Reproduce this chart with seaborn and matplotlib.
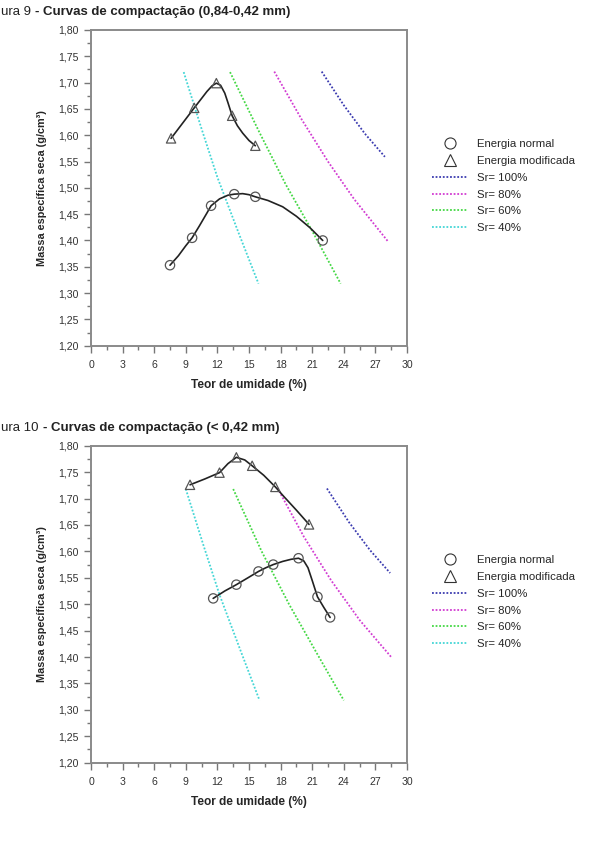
import seaborn as sns
import matplotlib.pyplot as plt
from matplotlib.lines import Line2D
from matplotlib.ticker import MultipleLocator, FuncFormatter

# ---- Figura 9 (0,84-0,42 mm) ----
f9_normal_w = [7.5, 9.6, 11.4, 13.6, 15.6, 22.0]
f9_normal_rho = [1.353, 1.405, 1.466, 1.488, 1.483, 1.400]
f9_normal_curve_w = [7.5, 8.3, 9.0, 9.6, 10.3, 11.0, 11.4, 12.2, 13.0, 13.6, 14.4, 15.0, 15.6, 16.8, 18.2, 19.5, 20.8, 22.0]
f9_normal_curve_rho = [1.353, 1.371, 1.390, 1.405, 1.428, 1.452, 1.466, 1.479, 1.486, 1.488, 1.489, 1.487, 1.483, 1.476, 1.464, 1.446, 1.424, 1.400]

f9_mod_w = [7.6, 9.8, 11.9, 13.4, 15.6]
f9_mod_rho = [1.594, 1.652, 1.699, 1.637, 1.580]
f9_mod_curve_w = [7.6, 8.7, 9.8, 10.5, 11.0, 11.5, 11.9, 12.3, 12.7, 13.0, 13.4, 13.9, 14.4, 15.0, 15.6]
f9_mod_curve_rho = [1.594, 1.623, 1.652, 1.670, 1.683, 1.694, 1.699, 1.695, 1.680, 1.662, 1.637, 1.618, 1.604, 1.590, 1.580]

f9_sr100_w = [21.9, 24.0, 26.0, 27.9]
f9_sr100_rho = [1.721, 1.657, 1.603, 1.559]
f9_sr80_w = [17.4, 20.0, 22.5, 25.0, 28.2]
f9_sr80_rho = [1.721, 1.630, 1.550, 1.478, 1.398]
f9_sr60_w = [13.2, 16.0, 18.5, 21.0, 23.7]
f9_sr60_rho = [1.720, 1.605, 1.506, 1.418, 1.318]
f9_sr40_w = [8.8, 10.5, 12.0, 14.0, 15.9]
f9_sr40_rho = [1.720, 1.612, 1.520, 1.415, 1.318]

# ---- Figura 10 (< 0,42 mm) ----
f10_normal_w = [11.6, 13.8, 15.9, 17.3, 19.7, 21.5, 22.7]
f10_normal_rho = [1.511, 1.537, 1.562, 1.575, 1.587, 1.514, 1.475]
f10_normal_curve_w = [11.6, 12.7, 13.8, 14.9, 15.9, 16.6, 17.3, 18.2, 19.0, 19.7, 20.2, 20.6, 21.0, 21.5, 22.1, 22.7]
f10_normal_curve_rho = [1.511, 1.525, 1.537, 1.550, 1.562, 1.569, 1.575, 1.581, 1.585, 1.587, 1.582, 1.569, 1.545, 1.514, 1.494, 1.475]

f10_mod_w = [9.4, 12.2, 13.8, 15.3, 17.5, 20.7]
f10_mod_rho = [1.726, 1.749, 1.778, 1.762, 1.722, 1.651]
f10_mod_curve_w = [9.4, 10.8, 12.2, 13.0, 13.8, 14.6, 15.3, 16.4, 17.5, 18.3, 19.5, 20.7]
f10_mod_curve_rho = [1.726, 1.737, 1.749, 1.766, 1.778, 1.773, 1.762, 1.744, 1.722, 1.704, 1.678, 1.651]

f10_sr100_w = [22.4, 24.5, 26.5, 28.4]
f10_sr100_rho = [1.719, 1.655, 1.602, 1.559]
f10_sr80_w = [17.7, 20.2, 22.8, 25.5, 28.5]
f10_sr80_rho = [1.720, 1.628, 1.545, 1.470, 1.400]
f10_sr60_w = [13.5, 16.2, 18.8, 21.3, 24.0]
f10_sr60_rho = [1.718, 1.600, 1.500, 1.412, 1.318]
f10_sr40_w = [9.0, 10.7, 12.2, 14.2, 16.0]
f10_sr40_rho = [1.718, 1.610, 1.518, 1.412, 1.318]

legend_labels = ["Energia normal", "Energia modificada", "Sr= 100%", "Sr= 80%", "Sr= 60%", "Sr= 40%"]
sr_colors = ["#3b3bb0", "#d23cd2", "#44d844", "#44d6d6"]

sns.set_style("white")
plt.rcParams['font.family'] = ['Liberation Sans', 'DejaVu Sans']

fig = plt.figure(figsize=(6.09, 8.56), dpi=100)
W, H = 609, 856


def px_axes(x0, y0, x1, y1):
    return fig.add_axes([x0 / W, 1 - y1 / H, (x1 - x0) / W, (y1 - y0) / H])


dot = (0, (1, 1))
marker_color = "#555555"


def draw(ax, normal, mod, srs, legend_top):
    nw, nr, ncw, ncr = normal
    mw, mr, mcw, mcr = mod
    for (sw, sr), c in zip(srs, sr_colors):
        sns.lineplot(x=sw, y=sr, ax=ax, color=c, linestyle=dot, lw=1.3, sort=False, estimator=None)
    sns.lineplot(x=ncw, y=ncr, ax=ax, color="#222222", lw=1.2, sort=False, estimator=None)
    sns.lineplot(x=mcw, y=mcr, ax=ax, color="#222222", lw=1.2, sort=False, estimator=None)
    sns.scatterplot(x=nw, y=nr, ax=ax, marker="o", s=45, facecolor="none", edgecolor=marker_color, linewidth=0.9, zorder=5)
    sns.scatterplot(x=mw, y=mr, ax=ax, marker="^", s=45, facecolor="none", edgecolor=marker_color, linewidth=0.9, zorder=5)

    ax.set_xlim(0, 30)
    ax.set_ylim(1.20, 1.80)
    ax.xaxis.set_major_locator(MultipleLocator(3))
    ax.xaxis.set_minor_locator(MultipleLocator(1.5))
    ax.yaxis.set_major_locator(MultipleLocator(0.05))
    ax.yaxis.set_minor_locator(MultipleLocator(0.025))
    ax.yaxis.set_major_formatter(FuncFormatter(lambda v, p: f"{v:.2f}".replace('.', ',')))
    ax.tick_params(which='major', direction='out', length=5, width=1, color='#777777',
                   labelsize=7.6, labelcolor='#333333', bottom=True, left=True, pad=5)
    ax.tick_params(which='minor', direction='out', length=3, width=1, color='#777777', bottom=True, left=True)
    ax.tick_params(axis='y', which='major', pad=4)
    for s in ax.spines.values():
        s.set_color('#8a8a8a')
        s.set_linewidth(1.4)
    ax.set_xlabel("Teor de umidade (%)", fontsize=8.6, fontweight='bold', labelpad=7)
    ax.set_ylabel("Massa específica seca (g/cm³)", fontsize=7.8, fontweight='bold', labelpad=8)

    handles = [
        Line2D([], [], ls='none', marker='o', ms=8, mfc='none', mec='#333333', mew=0.8),
        Line2D([], [], ls='none', marker='^', ms=8, mfc='none', mec='#333333', mew=0.8),
    ] + [Line2D([], [], color=c, ls=dot, lw=1.3) for c in sr_colors]
    ax.legend(handles, legend_labels, loc='upper left', bbox_to_anchor=(432 / W, 1 - legend_top / H),
              bbox_transform=fig.transFigure, frameon=False, fontsize=8.2, handlelength=3.2,
              handletextpad=0.75, labelspacing=0.6, borderpad=0, borderaxespad=0)


ax1 = px_axes(91, 30, 407, 345.7)
draw(ax1,
     (f9_normal_w, f9_normal_rho, f9_normal_curve_w, f9_normal_curve_rho),
     (f9_mod_w, f9_mod_rho, f9_mod_curve_w, f9_mod_curve_rho),
     [(f9_sr100_w, f9_sr100_rho), (f9_sr80_w, f9_sr80_rho), (f9_sr60_w, f9_sr60_rho), (f9_sr40_w, f9_sr40_rho)],
     139)

ax2 = px_axes(91, 445.7, 407, 762.7)
draw(ax2,
     (f10_normal_w, f10_normal_rho, f10_normal_curve_w, f10_normal_curve_rho),
     (f10_mod_w, f10_mod_rho, f10_mod_curve_w, f10_mod_curve_rho),
     [(f10_sr100_w, f10_sr100_rho), (f10_sr80_w, f10_sr80_rho), (f10_sr60_w, f10_sr60_rho), (f10_sr40_w, f10_sr40_rho)],
     555)

# captions, as they appear at the (cropped) left edge of the page
fig.text(1 / W, 1 - 12 / H, "ura 9", ha='left', va='center', fontsize=9.5, color='#222222')
fig.text(35 / W, 1 - 12 / H, "- Curvas de compactação (0,84-0,42 mm)", ha='left', va='center',
         fontsize=9.5, fontweight='bold', color='#222222')
fig.text(1 / W, 1 - 428 / H, "ura 10", ha='left', va='center', fontsize=9.5, color='#222222')
fig.text(43 / W, 1 - 428 / H, "- Curvas de compactação (< 0,42 mm)", ha='left', va='center',
         fontsize=9.5, fontweight='bold', color='#222222')

fig.savefig("out.png", dpi=100)
